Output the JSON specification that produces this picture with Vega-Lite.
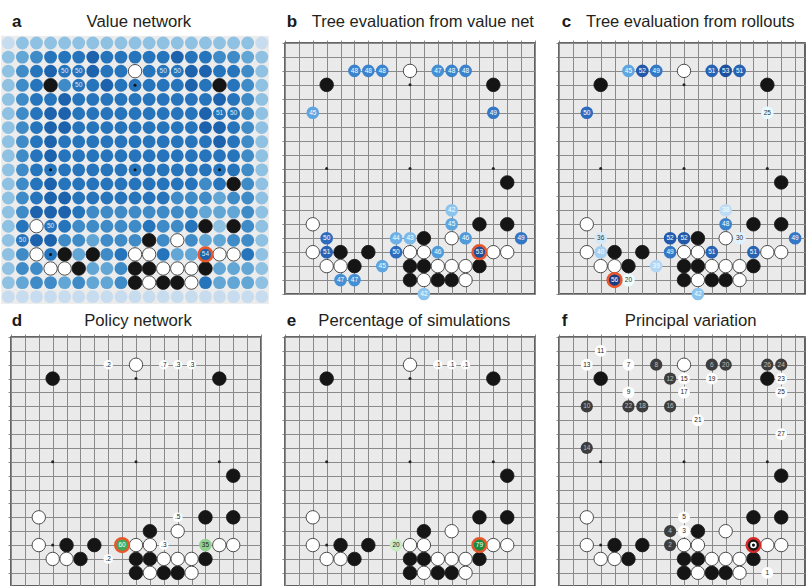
{
"$schema":"https://vega.github.io/schema/vega-lite/v6.json",
"padding":{"left":1,"top":12,"right":0,"bottom":0},
"background":"#ffffff",
"config":{"font":"Liberation Sans","view":{"stroke":null},"axis":{"grid":true,"gridColor":"#8a8a8a","gridWidth":1,"gridOpacity":1,"domain":false,"ticks":true,"tickSize":3,"tickColor":"#707070","tickWidth":0.8,"labels":false}},
"resolve":{"scale":{"fill":"independent","color":"independent","stroke":"independent","size":"independent"}},
"columns":3,
"bounds":"flush",
"spacing":{"row":43,"column":24},
"datasets":{
"stones":[{"c":3,"r":3,"s":"B"},{"c":15,"r":3,"s":"B"},{"c":16,"r":10,"s":"B"},{"c":14,"r":13,"s":"B"},{"c":16,"r":13,"s":"B"},{"c":10,"r":14,"s":"B"},{"c":4,"r":15,"s":"B"},{"c":6,"r":15,"s":"B"},{"c":5,"r":16,"s":"B"},{"c":9,"r":16,"s":"B"},{"c":10,"r":16,"s":"B"},{"c":14,"r":16,"s":"B"},{"c":9,"r":17,"s":"B"},{"c":11,"r":17,"s":"B"},{"c":12,"r":17,"s":"B"},
{"c":9,"r":2,"s":"W"},{"c":2,"r":13,"s":"W"},{"c":12,"r":14,"s":"W"},{"c":2,"r":15,"s":"W"},{"c":9,"r":15,"s":"W"},{"c":10,"r":15,"s":"W"},{"c":15,"r":15,"s":"W"},{"c":16,"r":15,"s":"W"},{"c":3,"r":16,"s":"W"},{"c":4,"r":16,"s":"W"},{"c":11,"r":16,"s":"W"},{"c":12,"r":16,"s":"W"},{"c":13,"r":16,"s":"W"},{"c":10,"r":17,"s":"W"},{"c":13,"r":17,"s":"W"}],
"stars":[{"c":3,"r":3},{"c":9,"r":3},{"c":15,"r":3},{"c":3,"r":9},{"c":9,"r":9},{"c":15,"r":9},{"c":3,"r":15},{"c":9,"r":15},{"c":15,"r":15}],
"acells":[
{"c":0,"r":0,"v":1},{"c":1,"r":0,"v":2},{"c":2,"r":0,"v":2},{"c":3,"r":0,"v":2},{"c":4,"r":0,"v":2},{"c":5,"r":0,"v":2},{"c":6,"r":0,"v":2},{"c":7,"r":0,"v":2},{"c":8,"r":0,"v":2},{"c":9,"r":0,"v":2},{"c":10,"r":0,"v":2},{"c":11,"r":0,"v":2},{"c":12,"r":0,"v":2},{"c":13,"r":0,"v":2},{"c":14,"r":0,"v":2},{"c":15,"r":0,"v":2},{"c":16,"r":0,"v":2},{"c":17,"r":0,"v":2},{"c":18,"r":0,"v":1},
{"c":0,"r":1,"v":2},{"c":1,"r":1,"v":3},{"c":2,"r":1,"v":4},{"c":3,"r":1,"v":5},{"c":4,"r":1,"v":5},{"c":5,"r":1,"v":5},{"c":6,"r":1,"v":6},{"c":7,"r":1,"v":5},{"c":8,"r":1,"v":5},{"c":9,"r":1,"v":5},{"c":10,"r":1,"v":5},{"c":11,"r":1,"v":5},{"c":12,"r":1,"v":6},{"c":13,"r":1,"v":5},{"c":14,"r":1,"v":5},{"c":15,"r":1,"v":4},{"c":16,"r":1,"v":4},{"c":17,"r":1,"v":3},{"c":18,"r":1,"v":2},
{"c":0,"r":2,"v":2},{"c":1,"r":2,"v":4},{"c":2,"r":2,"v":5},{"c":3,"r":2,"v":6},{"c":4,"r":2,"v":5,"lbl":"50"},{"c":5,"r":2,"v":5,"lbl":"50"},{"c":6,"r":2,"v":6},{"c":7,"r":2,"v":5},{"c":8,"r":2,"v":5},{"c":9,"r":2,"v":0},{"c":10,"r":2,"v":5},{"c":11,"r":2,"v":5,"lbl":"50"},{"c":12,"r":2,"v":5,"lbl":"50"},{"c":13,"r":2,"v":6},{"c":14,"r":2,"v":6},{"c":15,"r":2,"v":5},{"c":16,"r":2,"v":5},{"c":17,"r":2,"v":4},{"c":18,"r":2,"v":2},
{"c":0,"r":3,"v":2},{"c":1,"r":3,"v":4},{"c":2,"r":3,"v":5},{"c":3,"r":3,"v":0},{"c":4,"r":3,"v":4},{"c":5,"r":3,"v":5,"lbl":"50"},{"c":6,"r":3,"v":5},{"c":7,"r":3,"v":6},{"c":8,"r":3,"v":5},{"c":9,"r":3,"v":5},{"c":10,"r":3,"v":5},{"c":11,"r":3,"v":5},{"c":12,"r":3,"v":5},{"c":13,"r":3,"v":6},{"c":14,"r":3,"v":5},{"c":15,"r":3,"v":0},{"c":16,"r":3,"v":5},{"c":17,"r":3,"v":4},{"c":18,"r":3,"v":2},
{"c":0,"r":4,"v":2},{"c":1,"r":4,"v":4},{"c":2,"r":4,"v":5},{"c":3,"r":4,"v":5},{"c":4,"r":4,"v":6},{"c":5,"r":4,"v":5},{"c":6,"r":4,"v":5},{"c":7,"r":4,"v":5},{"c":8,"r":4,"v":5},{"c":9,"r":4,"v":5},{"c":10,"r":4,"v":5},{"c":11,"r":4,"v":5},{"c":12,"r":4,"v":5},{"c":13,"r":4,"v":5},{"c":14,"r":4,"v":5},{"c":15,"r":4,"v":6},{"c":16,"r":4,"v":5},{"c":17,"r":4,"v":4},{"c":18,"r":4,"v":2},
{"c":0,"r":5,"v":2},{"c":1,"r":5,"v":4},{"c":2,"r":5,"v":5},{"c":3,"r":5,"v":6},{"c":4,"r":5,"v":6},{"c":5,"r":5,"v":5},{"c":6,"r":5,"v":5},{"c":7,"r":5,"v":5},{"c":8,"r":5,"v":5},{"c":9,"r":5,"v":5},{"c":10,"r":5,"v":5},{"c":11,"r":5,"v":5},{"c":12,"r":5,"v":5},{"c":13,"r":5,"v":5},{"c":14,"r":5,"v":6},{"c":15,"r":5,"v":5,"lbl":"51"},{"c":16,"r":5,"v":5,"lbl":"50"},{"c":17,"r":5,"v":4},{"c":18,"r":5,"v":2},
{"c":0,"r":6,"v":2},{"c":1,"r":6,"v":4},{"c":2,"r":6,"v":5},{"c":3,"r":6,"v":6},{"c":4,"r":6,"v":6},{"c":5,"r":6,"v":5},{"c":6,"r":6,"v":5},{"c":7,"r":6,"v":5},{"c":8,"r":6,"v":5},{"c":9,"r":6,"v":5},{"c":10,"r":6,"v":5},{"c":11,"r":6,"v":5},{"c":12,"r":6,"v":5},{"c":13,"r":6,"v":5},{"c":14,"r":6,"v":6},{"c":15,"r":6,"v":6},{"c":16,"r":6,"v":5},{"c":17,"r":6,"v":4},{"c":18,"r":6,"v":2},
{"c":0,"r":7,"v":2},{"c":1,"r":7,"v":4},{"c":2,"r":7,"v":5},{"c":3,"r":7,"v":6},{"c":4,"r":7,"v":5},{"c":5,"r":7,"v":5},{"c":6,"r":7,"v":5},{"c":7,"r":7,"v":5},{"c":8,"r":7,"v":5},{"c":9,"r":7,"v":5},{"c":10,"r":7,"v":5},{"c":11,"r":7,"v":5},{"c":12,"r":7,"v":5},{"c":13,"r":7,"v":5},{"c":14,"r":7,"v":5},{"c":15,"r":7,"v":6},{"c":16,"r":7,"v":5},{"c":17,"r":7,"v":4},{"c":18,"r":7,"v":2},
{"c":0,"r":8,"v":2},{"c":1,"r":8,"v":4},{"c":2,"r":8,"v":5},{"c":3,"r":8,"v":6},{"c":4,"r":8,"v":5},{"c":5,"r":8,"v":5},{"c":6,"r":8,"v":5},{"c":7,"r":8,"v":5},{"c":8,"r":8,"v":5},{"c":9,"r":8,"v":5},{"c":10,"r":8,"v":5},{"c":11,"r":8,"v":5},{"c":12,"r":8,"v":5},{"c":13,"r":8,"v":5},{"c":14,"r":8,"v":5},{"c":15,"r":8,"v":5},{"c":16,"r":8,"v":5},{"c":17,"r":8,"v":4},{"c":18,"r":8,"v":2},
{"c":0,"r":9,"v":2},{"c":1,"r":9,"v":4},{"c":2,"r":9,"v":5},{"c":3,"r":9,"v":5},{"c":4,"r":9,"v":5},{"c":5,"r":9,"v":5},{"c":6,"r":9,"v":5},{"c":7,"r":9,"v":5},{"c":8,"r":9,"v":5},{"c":9,"r":9,"v":5},{"c":10,"r":9,"v":5},{"c":11,"r":9,"v":5},{"c":12,"r":9,"v":5},{"c":13,"r":9,"v":5},{"c":14,"r":9,"v":5},{"c":15,"r":9,"v":5},{"c":16,"r":9,"v":5},{"c":17,"r":9,"v":4},{"c":18,"r":9,"v":2},
{"c":0,"r":10,"v":2},{"c":1,"r":10,"v":4},{"c":2,"r":10,"v":5},{"c":3,"r":10,"v":6},{"c":4,"r":10,"v":5},{"c":5,"r":10,"v":5},{"c":6,"r":10,"v":5},{"c":7,"r":10,"v":5},{"c":8,"r":10,"v":5},{"c":9,"r":10,"v":5},{"c":10,"r":10,"v":5},{"c":11,"r":10,"v":5},{"c":12,"r":10,"v":5},{"c":13,"r":10,"v":5},{"c":14,"r":10,"v":4},{"c":15,"r":10,"v":5},{"c":16,"r":10,"v":0},{"c":17,"r":10,"v":4},{"c":18,"r":10,"v":2},
{"c":0,"r":11,"v":2},{"c":1,"r":11,"v":4},{"c":2,"r":11,"v":5},{"c":3,"r":11,"v":6},{"c":4,"r":11,"v":6},{"c":5,"r":11,"v":5},{"c":6,"r":11,"v":5},{"c":7,"r":11,"v":5},{"c":8,"r":11,"v":5},{"c":9,"r":11,"v":5},{"c":10,"r":11,"v":5},{"c":11,"r":11,"v":5},{"c":12,"r":11,"v":4},{"c":13,"r":11,"v":4},{"c":14,"r":11,"v":4},{"c":15,"r":11,"v":3},{"c":16,"r":11,"v":4},{"c":17,"r":11,"v":4},{"c":18,"r":11,"v":2},
{"c":0,"r":12,"v":2},{"c":1,"r":12,"v":4},{"c":2,"r":12,"v":6},{"c":3,"r":12,"v":6},{"c":4,"r":12,"v":6},{"c":5,"r":12,"v":5},{"c":6,"r":12,"v":4},{"c":7,"r":12,"v":4},{"c":8,"r":12,"v":4},{"c":9,"r":12,"v":4},{"c":10,"r":12,"v":4},{"c":11,"r":12,"v":4},{"c":12,"r":12,"v":4},{"c":13,"r":12,"v":4},{"c":14,"r":12,"v":3},{"c":15,"r":12,"v":3},{"c":16,"r":12,"v":3},{"c":17,"r":12,"v":4},{"c":18,"r":12,"v":2},
{"c":0,"r":13,"v":2},{"c":1,"r":13,"v":5},{"c":2,"r":13,"v":0},{"c":3,"r":13,"v":5,"lbl":"50"},{"c":4,"r":13,"v":5},{"c":5,"r":13,"v":4},{"c":6,"r":13,"v":4},{"c":7,"r":13,"v":4},{"c":8,"r":13,"v":4},{"c":9,"r":13,"v":4},{"c":10,"r":13,"v":5},{"c":11,"r":13,"v":4},{"c":12,"r":13,"v":4},{"c":13,"r":13,"v":5},{"c":14,"r":13,"v":0},{"c":15,"r":13,"v":2},{"c":16,"r":13,"v":0},{"c":17,"r":13,"v":4},{"c":18,"r":13,"v":2},
{"c":0,"r":14,"v":2},{"c":1,"r":14,"v":5,"lbl":"50"},{"c":2,"r":14,"v":6},{"c":3,"r":14,"v":6},{"c":4,"r":14,"v":4},{"c":5,"r":14,"v":4},{"c":6,"r":14,"v":3},{"c":7,"r":14,"v":4},{"c":8,"r":14,"v":4},{"c":9,"r":14,"v":4},{"c":10,"r":14,"v":0},{"c":11,"r":14,"v":4},{"c":12,"r":14,"v":0},{"c":13,"r":14,"v":4},{"c":14,"r":14,"v":3},{"c":15,"r":14,"v":3},{"c":16,"r":14,"v":4},{"c":17,"r":14,"v":4},{"c":18,"r":14,"v":2},
{"c":0,"r":15,"v":2},{"c":1,"r":15,"v":4},{"c":2,"r":15,"v":0},{"c":3,"r":15,"v":5},{"c":4,"r":15,"v":0},{"c":5,"r":15,"v":3},{"c":6,"r":15,"v":0},{"c":7,"r":15,"v":4},{"c":8,"r":15,"v":5},{"c":9,"r":15,"v":0},{"c":10,"r":15,"v":0},{"c":11,"r":15,"v":5},{"c":12,"r":15,"v":3},{"c":13,"r":15,"v":3},{"c":14,"r":15,"v":6,"lbl":"54","sel":1},{"c":15,"r":15,"v":0},{"c":16,"r":15,"v":0},{"c":17,"r":15,"v":5},{"c":18,"r":15,"v":2},
{"c":0,"r":16,"v":2},{"c":1,"r":16,"v":4},{"c":2,"r":16,"v":4},{"c":3,"r":16,"v":0},{"c":4,"r":16,"v":0},{"c":5,"r":16,"v":0},{"c":6,"r":16,"v":3},{"c":7,"r":16,"v":3},{"c":8,"r":16,"v":4},{"c":9,"r":16,"v":0},{"c":10,"r":16,"v":0},{"c":11,"r":16,"v":0},{"c":12,"r":16,"v":0},{"c":13,"r":16,"v":0},{"c":14,"r":16,"v":0},{"c":15,"r":16,"v":3},{"c":16,"r":16,"v":3},{"c":17,"r":16,"v":3},{"c":18,"r":16,"v":2},
{"c":0,"r":17,"v":2},{"c":1,"r":17,"v":3},{"c":2,"r":17,"v":4},{"c":3,"r":17,"v":4},{"c":4,"r":17,"v":3},{"c":5,"r":17,"v":4},{"c":6,"r":17,"v":3},{"c":7,"r":17,"v":3},{"c":8,"r":17,"v":4},{"c":9,"r":17,"v":0},{"c":10,"r":17,"v":0},{"c":11,"r":17,"v":0},{"c":12,"r":17,"v":0},{"c":13,"r":17,"v":0},{"c":14,"r":17,"v":5},{"c":15,"r":17,"v":3},{"c":16,"r":17,"v":3},{"c":17,"r":17,"v":3},{"c":18,"r":17,"v":2},
{"c":0,"r":18,"v":1},{"c":1,"r":18,"v":1},{"c":2,"r":18,"v":1},{"c":3,"r":18,"v":1},{"c":4,"r":18,"v":1},{"c":5,"r":18,"v":1},{"c":6,"r":18,"v":1},{"c":7,"r":18,"v":1},{"c":8,"r":18,"v":1},{"c":9,"r":18,"v":1},{"c":10,"r":18,"v":1},{"c":11,"r":18,"v":1},{"c":12,"r":18,"v":1},{"c":13,"r":18,"v":1},{"c":14,"r":18,"v":1},{"c":15,"r":18,"v":1},{"c":16,"r":18,"v":1},{"c":17,"r":18,"v":1},{"c":18,"r":18,"v":1}
],
"bv":[{"c":5,"r":2,"v":48},{"c":6,"r":2,"v":48},{"c":7,"r":2,"v":48},{"c":11,"r":2,"v":47},{"c":12,"r":2,"v":48},{"c":13,"r":2,"v":48},{"c":2,"r":5,"v":45},{"c":15,"r":5,"v":49},{"c":12,"r":12,"v":42},{"c":12,"r":13,"v":45},{"c":3,"r":14,"v":50},{"c":8,"r":14,"v":44},{"c":9,"r":14,"v":43},{"c":13,"r":14,"v":46},{"c":17,"r":14,"v":49},{"c":3,"r":15,"v":51},{"c":8,"r":15,"v":50},{"c":11,"r":15,"v":46},{"c":14,"r":15,"v":53,"sel":1},{"c":7,"r":16,"v":45},{"c":4,"r":17,"v":47},{"c":5,"r":17,"v":47},{"c":10,"r":18,"v":42}],
"cv":[{"c":5,"r":2,"v":45},{"c":6,"r":2,"v":52},{"c":7,"r":2,"v":49},{"c":11,"r":2,"v":51},{"c":12,"r":2,"v":53},{"c":13,"r":2,"v":51},{"c":2,"r":5,"v":50},{"c":15,"r":5,"v":25},{"c":12,"r":12,"v":38},{"c":12,"r":13,"v":48},{"c":3,"r":14,"v":36},{"c":8,"r":14,"v":52},{"c":9,"r":14,"v":52},{"c":13,"r":14,"v":30},{"c":17,"r":14,"v":49},{"c":3,"r":15,"v":40},{"c":8,"r":15,"v":49},{"c":11,"r":15,"v":51},{"c":14,"r":15,"v":51},{"c":7,"r":16,"v":39},{"c":4,"r":17,"v":56,"sel":1},{"c":5,"r":17,"v":20},{"c":10,"r":18,"v":42}],
"dv":[{"c":7,"r":2,"p":0.2,"lbl":".2"},{"c":11,"r":2,"p":0.7,"lbl":".7"},{"c":12,"r":2,"p":0.3,"lbl":".3"},{"c":13,"r":2,"p":0.3,"lbl":".3"},{"c":12,"r":13,"p":0.5,"lbl":".5"},{"c":8,"r":15,"p":60,"lbl":"60","sel":1},{"c":11,"r":15,"p":0.3,"lbl":".3"},{"c":14,"r":15,"p":35,"lbl":"35"},{"c":7,"r":16,"p":0.2,"lbl":".2"}],
"ev":[{"c":11,"r":2,"p":0.1,"lbl":".1"},{"c":12,"r":2,"p":0.1,"lbl":".1"},{"c":13,"r":2,"p":0.1,"lbl":".1"},{"c":8,"r":15,"p":20,"lbl":"20"},{"c":14,"r":15,"p":79,"lbl":"79","sel":1}],
"fv":[{"c":15,"r":17,"n":1,"s":"W"},{"c":8,"r":15,"n":2,"s":"B"},{"c":9,"r":14,"n":3,"s":"W"},{"c":8,"r":14,"n":4,"s":"B"},{"c":9,"r":13,"n":5,"s":"W"},{"c":11,"r":2,"n":6,"s":"B"},{"c":5,"r":2,"n":7,"s":"W"},{"c":7,"r":2,"n":8,"s":"B"},{"c":5,"r":4,"n":9,"s":"W"},{"c":2,"r":5,"n":10,"s":"B"},{"c":3,"r":1,"n":11,"s":"W"},{"c":8,"r":3,"n":12,"s":"B"},{"c":2,"r":2,"n":13,"s":"W"},{"c":2,"r":8,"n":14,"s":"B"},{"c":9,"r":3,"n":15,"s":"W"},{"c":8,"r":5,"n":16,"s":"B"},{"c":9,"r":4,"n":17,"s":"W"},{"c":6,"r":5,"n":18,"s":"B"},{"c":11,"r":3,"n":19,"s":"W"},{"c":12,"r":2,"n":20,"s":"B"},{"c":10,"r":6,"n":21,"s":"W"},{"c":5,"r":5,"n":22,"s":"B"},{"c":16,"r":3,"n":23,"s":"W"},{"c":16,"r":2,"n":24,"s":"B"},{"c":16,"r":4,"n":25,"s":"W"},{"c":15,"r":2,"n":26,"s":"B"},{"c":16,"r":7,"n":27,"s":"W"}],
"fplay":[{"c":14,"r":15}],
"one":[{"k":1}]
},
"concat":[
{
"width":250,"height":251,
"view":{"stroke":null,"fill":null},
"layer":[
{
"encoding":{
"x":{"field":"c","type":"quantitative","title":null,"scale":{"domain":[0.19,17.945],"nice":false,"zero":false},"axis":null},
"y":{"field":"r","type":"quantitative","title":null,"scale":{"domain":[0,17.81],"nice":false,"zero":false,"reverse":true},"axis":null}
},
"layer":[
{"data":{"name":"acells"},"mark":{"type":"square","size":206,"fill":"#ebebeb","strokeWidth":0,"opacity":1}},
{"data":{"name":"acells"},"transform":[{"filter":"datum.v > 0"}],"mark":{"type":"circle","size":165,"opacity":1},"encoding":{"fill":{"field":"v","type":"ordinal","scale":{"domain":[1,2,3,4,5,6],"range":["#c8dcef","#8fc1e2","#62a6d6","#3f8bc7","#2675bc","#1d62ac"]},"legend":null}}},
{"data":{"name":"stars"},"mark":{"type":"circle","size":9,"fill":"#111111","opacity":1}},
{"data":{"name":"stones"},"transform":[{"filter":"datum.s == 'B'"}],"mark":{"type":"circle","size":185,"fill":"#151515","stroke":"#151515","strokeWidth":0.8,"opacity":1}},
{"data":{"name":"stones"},"transform":[{"filter":"datum.s == 'W'"}],"mark":{"type":"circle","size":180,"fill":"#ffffff","stroke":"#3a3a3a","strokeWidth":0.9,"opacity":1}},
{"data":{"name":"acells"},"transform":[{"filter":"datum.sel == 1"}],"mark":{"type":"circle","filled":false,"size":190,"stroke":"#e8572c","strokeWidth":2.5,"opacity":1}},
{"data":{"name":"acells"},"transform":[{"filter":"isValid(datum.lbl)"}],"mark":{"type":"text","fontSize":6.5,"color":"#dce9f6","align":"center","baseline":"middle"},"encoding":{"text":{"field":"lbl","type":"nominal"}}}
]
},
{"data":{"name":"one"},"mark":{"type":"text","text":"a","fontSize":17,"fontWeight":"bold","align":"left","baseline":"alphabetic","color":"#1a1a1a"},"encoding":{"x":{"datum":0.26,"type":"quantitative","axis":null},"y":{"datum":-1.12,"type":"quantitative","axis":null}}},
{"data":{"name":"one"},"mark":{"type":"text","text":"Value network","fontSize":16.7,"align":"center","baseline":"alphabetic","color":"#231f20"},"encoding":{"x":{"datum":9.27,"type":"quantitative","axis":null},"y":{"datum":-1.12,"type":"quantitative","axis":null}}}
]
},
{
"width":250,"height":251,
"view":{"fill":"#eaeaea","stroke":"#333333","strokeWidth":1.5},
"layer":[
{
"encoding":{
"x":{"field":"c","type":"quantitative","title":null,"scale":{"domain":[0,18],"nice":false,"zero":false},"axis":{"orient":"top","values":[0,1,2,3,4,5,6,7,8,9,10,11,12,13,14,15,16,17,18]}},
"y":{"field":"r","type":"quantitative","title":null,"scale":{"domain":[0,18],"nice":false,"zero":false,"reverse":true},"axis":{"orient":"left","values":[0,1,2,3,4,5,6,7,8,9,10,11,12,13,14,15,16,17,18]}}
},
"layer":[
{"data":{"name":"stars"},"mark":{"type":"circle","size":9,"fill":"#222222","opacity":1}},
{"data":{"name":"stones"},"transform":[{"filter":"datum.s == 'B'"}],"mark":{"type":"circle","size":185,"fill":"#151515","stroke":"#151515","strokeWidth":0.8,"opacity":1}},
{"data":{"name":"stones"},"transform":[{"filter":"datum.s == 'W'"}],"mark":{"type":"circle","size":180,"fill":"#ffffff","stroke":"#3a3a3a","strokeWidth":0.9,"opacity":1}},
{"data":{"name":"bv"},"mark":{"type":"circle","size":160,"opacity":1},"encoding":{"fill":{"field":"v","type":"quantitative","scale":{"domain":[20,36,42,46,50,53,56],"range":["#ffffff","#d6e9f8","#8cc4ee","#4f9bdc","#2d6cbd","#1e4f9e","#163d86"]},"legend":null}}},
{"data":{"name":"bv"},"transform":[{"filter":"datum.sel == 1"}],"mark":{"type":"circle","filled":false,"size":190,"stroke":"#e8572c","strokeWidth":2.5,"opacity":1}},
{"data":{"name":"bv"},"mark":{"type":"text","fontSize":6.5,"align":"center","baseline":"middle"},"encoding":{"text":{"field":"v","type":"quantitative"},"color":{"condition":{"test":"datum.v <= 36","value":"#333333"},"value":"#ffffff"}}}
]
},
{"data":{"name":"one"},"mark":{"type":"text","text":"b","fontSize":17,"fontWeight":"bold","align":"left","baseline":"alphabetic","color":"#1a1a1a"},"encoding":{"x":{"datum":0.12,"type":"quantitative","axis":{"orient":"top","values":[0,1,2,3,4,5,6,7,8,9,10,11,12,13,14,15,16,17,18]}},"y":{"datum":-1.12,"type":"quantitative","axis":{"orient":"left","values":[0,1,2,3,4,5,6,7,8,9,10,11,12,13,14,15,16,17,18]}}}},
{"data":{"name":"one"},"mark":{"type":"text","text":"Tree evaluation from value net","fontSize":16.5,"align":"left","baseline":"alphabetic","color":"#231f20"},"encoding":{"x":{"datum":1.92,"type":"quantitative","axis":{"orient":"top","values":[0,1,2,3,4,5,6,7,8,9,10,11,12,13,14,15,16,17,18]}},"y":{"datum":-1.12,"type":"quantitative","axis":{"orient":"left","values":[0,1,2,3,4,5,6,7,8,9,10,11,12,13,14,15,16,17,18]}}}}
]
},
{
"width":246,"height":251,
"view":{"fill":"#eaeaea","stroke":"#333333","strokeWidth":1.5},
"layer":[
{
"encoding":{
"x":{"field":"c","type":"quantitative","title":null,"scale":{"domain":[0,17.712],"nice":false,"zero":false},"axis":{"orient":"top","values":[0,1,2,3,4,5,6,7,8,9,10,11,12,13,14,15,16,17]}},
"y":{"field":"r","type":"quantitative","title":null,"scale":{"domain":[0,18],"nice":false,"zero":false,"reverse":true},"axis":{"orient":"left","values":[0,1,2,3,4,5,6,7,8,9,10,11,12,13,14,15,16,17,18]}}
},
"layer":[
{"data":{"name":"stars"},"mark":{"type":"circle","size":9,"fill":"#222222","opacity":1}},
{"data":{"name":"stones"},"transform":[{"filter":"datum.s == 'B'"}],"mark":{"type":"circle","size":185,"fill":"#151515","stroke":"#151515","strokeWidth":0.8,"opacity":1}},
{"data":{"name":"stones"},"transform":[{"filter":"datum.s == 'W'"}],"mark":{"type":"circle","size":180,"fill":"#ffffff","stroke":"#3a3a3a","strokeWidth":0.9,"opacity":1}},
{"data":{"name":"cv"},"mark":{"type":"circle","size":160,"opacity":1},"encoding":{"fill":{"field":"v","type":"quantitative","scale":{"domain":[20,36,42,46,50,53,56],"range":["#ffffff","#d6e9f8","#8cc4ee","#4f9bdc","#2d6cbd","#1e4f9e","#163d86"]},"legend":null}}},
{"data":{"name":"cv"},"transform":[{"filter":"datum.sel == 1"}],"mark":{"type":"circle","filled":false,"size":190,"stroke":"#e8572c","strokeWidth":2.5,"opacity":1}},
{"data":{"name":"cv"},"mark":{"type":"text","fontSize":6.5,"align":"center","baseline":"middle"},"encoding":{"text":{"field":"v","type":"quantitative"},"color":{"condition":{"test":"datum.v <= 36","value":"#333333"},"value":"#ffffff"}}}
]
},
{"data":{"name":"one"},"mark":{"type":"text","text":"c","fontSize":17,"fontWeight":"bold","align":"left","baseline":"alphabetic","color":"#1a1a1a"},"encoding":{"x":{"datum":0.19,"type":"quantitative","axis":{"orient":"top","values":[0,1,2,3,4,5,6,7,8,9,10,11,12,13,14,15,16,17]}},"y":{"datum":-1.12,"type":"quantitative","axis":{"orient":"left","values":[0,1,2,3,4,5,6,7,8,9,10,11,12,13,14,15,16,17,18]}}}},
{"data":{"name":"one"},"mark":{"type":"text","text":"Tree evaluation from rollouts","fontSize":16.5,"align":"left","baseline":"alphabetic","color":"#231f20"},"encoding":{"x":{"datum":1.94,"type":"quantitative","axis":{"orient":"top","values":[0,1,2,3,4,5,6,7,8,9,10,11,12,13,14,15,16,17]}},"y":{"datum":-1.12,"type":"quantitative","axis":{"orient":"left","values":[0,1,2,3,4,5,6,7,8,9,10,11,12,13,14,15,16,17,18]}}}}
]
},
{
"width":250,"height":249,
"view":{"fill":"#eaeaea","stroke":"#333333","strokeWidth":1.5},
"layer":[
{
"encoding":{
"x":{"field":"c","type":"quantitative","title":null,"scale":{"domain":[0,18],"nice":false,"zero":false},"axis":{"orient":"top","values":[0,1,2,3,4,5,6,7,8,9,10,11,12,13,14,15,16,17,18]}},
"y":{"field":"r","type":"quantitative","title":null,"scale":{"domain":[0,17.95],"nice":false,"zero":false,"reverse":true},"axis":{"orient":"left","values":[0,1,2,3,4,5,6,7,8,9,10,11,12,13,14,15,16,17]}}
},
"layer":[
{"data":{"name":"stars"},"mark":{"type":"circle","size":9,"fill":"#222222","opacity":1}},
{"data":{"name":"stones"},"transform":[{"filter":"datum.s == 'B'"}],"mark":{"type":"circle","size":185,"fill":"#151515","stroke":"#151515","strokeWidth":0.8,"opacity":1}},
{"data":{"name":"stones"},"transform":[{"filter":"datum.s == 'W'"}],"mark":{"type":"circle","size":180,"fill":"#ffffff","stroke":"#3a3a3a","strokeWidth":0.9,"opacity":1}},
{"data":{"name":"dv"},"mark":{"type":"circle","opacity":1},"encoding":{"fill":{"field":"p","type":"quantitative","scale":{"domain":[0,1,20,35,60,79],"range":["#ffffff","#ffffff","#c9eac5","#90d18f","#3fa956","#1a8a3d"]},"legend":null},"size":{"condition":{"test":"datum.p >= 10","value":160},"value":90}}},
{"data":{"name":"dv"},"transform":[{"filter":"datum.sel == 1"}],"mark":{"type":"circle","filled":false,"size":190,"stroke":"#e8572c","strokeWidth":2.5,"opacity":1}},
{"data":{"name":"dv"},"mark":{"type":"text","fontSize":6.5,"align":"center","baseline":"middle"},"encoding":{"text":{"field":"lbl","type":"nominal"},"color":{"condition":{"test":"datum.p >= 50","value":"#ffffff"},"value":"#222222"}}}
]
},
{"data":{"name":"one"},"mark":{"type":"text","text":"d","fontSize":17,"fontWeight":"bold","align":"left","baseline":"alphabetic","color":"#1a1a1a"},"encoding":{"x":{"datum":0.05,"type":"quantitative","axis":{"orient":"top","values":[0,1,2,3,4,5,6,7,8,9,10,11,12,13,14,15,16,17,18]}},"y":{"datum":-0.78,"type":"quantitative","axis":{"orient":"left","values":[0,1,2,3,4,5,6,7,8,9,10,11,12,13,14,15,16,17]}}}},
{"data":{"name":"one"},"mark":{"type":"text","text":"Policy network","fontSize":16.7,"align":"center","baseline":"alphabetic","color":"#231f20"},"encoding":{"x":{"datum":9.14,"type":"quantitative","axis":{"orient":"top","values":[0,1,2,3,4,5,6,7,8,9,10,11,12,13,14,15,16,17,18]}},"y":{"datum":-0.78,"type":"quantitative","axis":{"orient":"left","values":[0,1,2,3,4,5,6,7,8,9,10,11,12,13,14,15,16,17]}}}}
]
},
{
"width":250,"height":249,
"view":{"fill":"#eaeaea","stroke":"#333333","strokeWidth":1.5},
"layer":[
{
"encoding":{
"x":{"field":"c","type":"quantitative","title":null,"scale":{"domain":[0,18],"nice":false,"zero":false},"axis":{"orient":"top","values":[0,1,2,3,4,5,6,7,8,9,10,11,12,13,14,15,16,17,18]}},
"y":{"field":"r","type":"quantitative","title":null,"scale":{"domain":[0,17.95],"nice":false,"zero":false,"reverse":true},"axis":{"orient":"left","values":[0,1,2,3,4,5,6,7,8,9,10,11,12,13,14,15,16,17]}}
},
"layer":[
{"data":{"name":"stars"},"mark":{"type":"circle","size":9,"fill":"#222222","opacity":1}},
{"data":{"name":"stones"},"transform":[{"filter":"datum.s == 'B'"}],"mark":{"type":"circle","size":185,"fill":"#151515","stroke":"#151515","strokeWidth":0.8,"opacity":1}},
{"data":{"name":"stones"},"transform":[{"filter":"datum.s == 'W'"}],"mark":{"type":"circle","size":180,"fill":"#ffffff","stroke":"#3a3a3a","strokeWidth":0.9,"opacity":1}},
{"data":{"name":"ev"},"mark":{"type":"circle","opacity":1},"encoding":{"fill":{"field":"p","type":"quantitative","scale":{"domain":[0,1,20,35,60,79],"range":["#ffffff","#ffffff","#c9eac5","#90d18f","#3fa956","#1a8a3d"]},"legend":null},"size":{"condition":{"test":"datum.p >= 10","value":160},"value":90}}},
{"data":{"name":"ev"},"transform":[{"filter":"datum.sel == 1"}],"mark":{"type":"circle","filled":false,"size":190,"stroke":"#e8572c","strokeWidth":2.5,"opacity":1}},
{"data":{"name":"ev"},"mark":{"type":"text","fontSize":6.5,"align":"center","baseline":"middle"},"encoding":{"text":{"field":"lbl","type":"nominal"},"color":{"condition":{"test":"datum.p >= 50","value":"#ffffff"},"value":"#222222"}}}
]
},
{"data":{"name":"one"},"mark":{"type":"text","text":"e","fontSize":17,"fontWeight":"bold","align":"left","baseline":"alphabetic","color":"#1a1a1a"},"encoding":{"x":{"datum":0.12,"type":"quantitative","axis":{"orient":"top","values":[0,1,2,3,4,5,6,7,8,9,10,11,12,13,14,15,16,17,18]}},"y":{"datum":-0.78,"type":"quantitative","axis":{"orient":"left","values":[0,1,2,3,4,5,6,7,8,9,10,11,12,13,14,15,16,17]}}}},
{"data":{"name":"one"},"mark":{"type":"text","text":"Percentage of simulations","fontSize":16.7,"align":"left","baseline":"alphabetic","color":"#231f20"},"encoding":{"x":{"datum":2.4,"type":"quantitative","axis":{"orient":"top","values":[0,1,2,3,4,5,6,7,8,9,10,11,12,13,14,15,16,17,18]}},"y":{"datum":-0.78,"type":"quantitative","axis":{"orient":"left","values":[0,1,2,3,4,5,6,7,8,9,10,11,12,13,14,15,16,17]}}}}
]
},
{
"width":246,"height":249,
"view":{"fill":"#eaeaea","stroke":"#333333","strokeWidth":1.5},
"layer":[
{
"encoding":{
"x":{"field":"c","type":"quantitative","title":null,"scale":{"domain":[0,17.712],"nice":false,"zero":false},"axis":{"orient":"top","values":[0,1,2,3,4,5,6,7,8,9,10,11,12,13,14,15,16,17]}},
"y":{"field":"r","type":"quantitative","title":null,"scale":{"domain":[0,17.95],"nice":false,"zero":false,"reverse":true},"axis":{"orient":"left","values":[0,1,2,3,4,5,6,7,8,9,10,11,12,13,14,15,16,17]}}
},
"layer":[
{"data":{"name":"stars"},"mark":{"type":"circle","size":9,"fill":"#222222","opacity":1}},
{"data":{"name":"stones"},"transform":[{"filter":"datum.s == 'B'"}],"mark":{"type":"circle","size":185,"fill":"#151515","stroke":"#151515","strokeWidth":0.8,"opacity":1}},
{"data":{"name":"stones"},"transform":[{"filter":"datum.s == 'W'"}],"mark":{"type":"circle","size":180,"fill":"#ffffff","stroke":"#3a3a3a","strokeWidth":0.9,"opacity":1}},
{"data":{"name":"fplay"},"mark":{"type":"circle","size":185,"fill":"#151515","stroke":"#d42a2a","strokeWidth":2.5,"opacity":1}},
{"data":{"name":"fplay"},"mark":{"type":"circle","size":42,"fill":"#ffffff","opacity":1}},
{"data":{"name":"fplay"},"mark":{"type":"circle","size":10,"fill":"#151515","opacity":1}},
{"data":{"name":"fv"},"transform":[{"filter":"datum.s == 'B'"}],"mark":{"type":"circle","size":150,"fill":"#3d3d3d","opacity":1}},
{"data":{"name":"fv"},"transform":[{"filter":"datum.s == 'W'"}],"mark":{"type":"circle","size":140,"fill":"#ffffff","opacity":1}},
{"data":{"name":"fv"},"mark":{"type":"text","fontSize":6.5,"align":"center","baseline":"middle"},"encoding":{"text":{"field":"n","type":"quantitative"},"color":{"condition":{"test":"datum.s == 'B'","value":"#bdbdbd"},"value":"#222222"}}}
]
},
{"data":{"name":"one"},"mark":{"type":"text","text":"f","fontSize":17,"fontWeight":"bold","align":"left","baseline":"alphabetic","color":"#1a1a1a"},"encoding":{"x":{"datum":0.19,"type":"quantitative","axis":{"orient":"top","values":[0,1,2,3,4,5,6,7,8,9,10,11,12,13,14,15,16,17]}},"y":{"datum":-0.78,"type":"quantitative","axis":{"orient":"left","values":[0,1,2,3,4,5,6,7,8,9,10,11,12,13,14,15,16,17]}}}},
{"data":{"name":"one"},"mark":{"type":"text","text":"Principal variation","fontSize":16.7,"align":"center","baseline":"alphabetic","color":"#231f20"},"encoding":{"x":{"datum":9.48,"type":"quantitative","axis":{"orient":"top","values":[0,1,2,3,4,5,6,7,8,9,10,11,12,13,14,15,16,17]}},"y":{"datum":-0.78,"type":"quantitative","axis":{"orient":"left","values":[0,1,2,3,4,5,6,7,8,9,10,11,12,13,14,15,16,17]}}}}
]
}
]
}
